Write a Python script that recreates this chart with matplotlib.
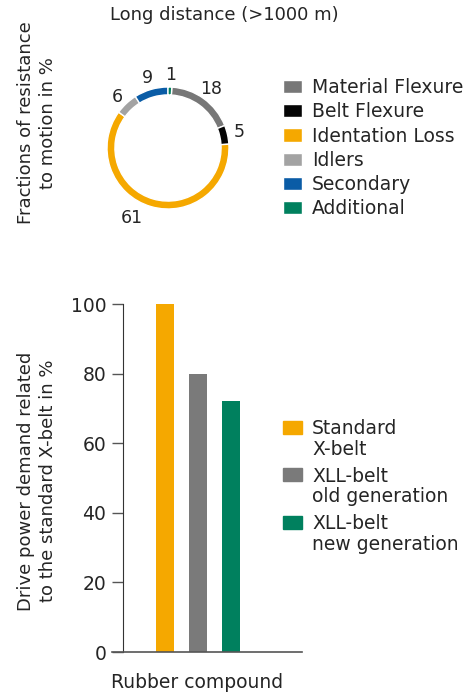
import matplotlib
matplotlib.use("Agg")
import matplotlib.pyplot as plt
from matplotlib.patches import Rectangle
import numpy as np

plt.rcParams['font.family'] = ['DejaVu Sans']
plt.rcParams['text.color'] = '#252525'
plt.rcParams['axes.labelcolor'] = '#252525'
plt.rcParams['xtick.color'] = '#252525'
plt.rcParams['ytick.color'] = '#252525'

# donut data
ring_labels = ['Material Flexure', 'Belt Flexure', 'Identation Loss', 'Idlers', 'Secondary', 'Additional']
ring_values = [18, 5, 61, 6, 9, 1]
ring_colors = ['#777777', '#050505', '#f5a800', '#a3a3a3', '#0a5ca6', '#00805e']

# bar data
bar_labels = ['Standard\nX-belt', 'XLL-belt\nold generation', 'XLL-belt\nnew generation']
bar_values = [100, 80, 72]
bar_colors = ['#f5a800', '#7a7a7a', '#00805e']

W, H = 477, 693
fig = plt.figure(figsize=(W / 100, H / 100), dpi=100)

def box(x0, y0, x1, y1):
    return [x0 / W, 1 - y1 / H, (x1 - x0) / W, (y1 - y0) / H]

# ---- donut ----
cx, cy, r = 168, 148, 61
ax1 = fig.add_axes(box(cx - r, cy - r, cx + r, cy + r))
start = 90 - 360 * ring_values[-1] / 100
wedges, texts = ax1.pie(ring_values, colors=ring_colors, startangle=start, counterclock=False,
                        radius=1, labels=[str(v) for v in ring_values], labeldistance=1.2,
                        wedgeprops=dict(width=0.13, edgecolor='white', linewidth=1),
                        textprops=dict(fontsize=12.5, ha='center', va='center'))
for t in texts:
    t.set_ha('center')
    t.set_va('center')
texts[2].set_position((-0.59, -1.15))
texts[3].set_position((-0.83, 0.83))
ax1.set_xlim(-1, 1)
ax1.set_ylim(-1, 1)
ax1.set_aspect('equal')
ax1.axis('off')

fig.text(224 / W, 1 - 15 / H, 'Long distance (>1000 m)', ha='center', va='center', fontsize=13)
fig.text(37 / W, 1 - 123 / H, 'Fractions of resistance\nto motion in %', rotation=90,
         ha='center', va='center', fontsize=13, linespacing=1.3)

fig.legend(wedges, ring_labels, loc='upper left', bbox_to_anchor=(283 / W, 1 - 78 / H),
           frameon=False, fontsize=13.5, handlelength=1.0, handleheight=0.7,
           handletextpad=0.53, labelspacing=0.28, borderaxespad=0, borderpad=0)

# ---- bars ----
ax2 = fig.add_axes(box(123, 304, 302, 652))
x = np.arange(len(bar_values))
bars = ax2.bar(x, bar_values, width=18 / 33, color=bar_colors)
ax2.set_xlim(-42 / 33, 2 + 71 / 33)
ax2.set_ylim(0, 100)
ax2.set_yticks([0, 20, 40, 60, 80, 100])
ax2.set_xticks([])
ax2.tick_params(axis='y', length=8, width=1, color='#555555', labelsize=13.5, pad=4)
for s in ['top', 'right']:
    ax2.spines[s].set_visible(False)
ax2.spines['left'].set_color('#333333')
ax2.spines['bottom'].set_color('#555555')
ax2.spines['bottom'].set_linewidth(1.2)
ax2.spines['bottom'].set_bounds(-1.6, 2 + 71 / 33)
ax2.spines['bottom'].set_clip_on(False)
ax2.set_xlabel('Rubber compound', fontsize=13.5)
ax2.xaxis.set_label_coords((197 - 123) / 179, (652 - 683) / 348)
ax2.xaxis.label.set_va('center')
fig.text(37 / W, 1 - 481 / H, 'Drive power demand related\nto the standard X-belt in %',
         rotation=90, ha='center', va='center', fontsize=13, linespacing=1.3)

# legend for the bars: swatch lined up with the first text line
for i, (b, lab) in enumerate(zip(bars, bar_labels)):
    yc = 427 + i * 47.5
    fig.patches.append(Rectangle((283 / W, 1 - (yc + 6.5) / H), 19 / W, 13 / H,
                                 transform=fig.transFigure, color=b.get_facecolor()))
    fig.text(312 / W, 1 - (yc - 8) / H, lab, ha='left', va='top', fontsize=13.5, linespacing=1.12)

fig.savefig('out.png', dpi=100)
